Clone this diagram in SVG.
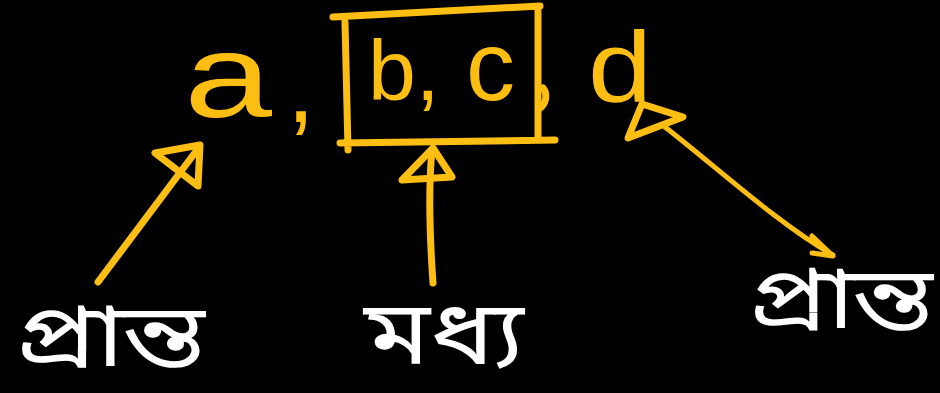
<svg xmlns="http://www.w3.org/2000/svg" width="940" height="393" viewBox="0 0 940 393">
<style>
.ink{fill:none;stroke:#FDBE14;stroke-width:7;stroke-linecap:round;stroke-linejoin:round}
.thin{fill:none;stroke:#FDBE14;stroke-width:5;stroke-linecap:round;stroke-linejoin:round}
.var{fill:#FDBE14;font-family:"Liberation Sans","DejaVu Sans",sans-serif}
.lbl{fill:#FFFFFF;font-family:"Noto Sans","Noto Sans Bengali","Lohit Bengali",sans-serif}
</style>
<rect width="940" height="393" fill="#000000"/>
<g id="seq">
<text class="var" x="184" y="117" font-size="118" textLength="88" lengthAdjust="spacingAndGlyphs">a</text>
<text class="var" x="287" y="122" font-size="100">,</text>
<text class="var" x="588" y="102" font-size="100" textLength="64" lengthAdjust="spacingAndGlyphs">d</text>
</g>
<g id="box">
<path class="ink" d="M333,17 L540,6 M345,22 L348,150 M538,8 L538,138 M340,143 L555,140"/>
<text class="var" x="368" y="100" font-size="86">b,</text>
<text class="var" x="466" y="100" font-size="98">c</text>
<path class="ink" d="M543,88 C548,94 546,104 540,108"/>
</g>
<g id="left-label">
<text class="lbl" x="15" y="366" font-size="88" textLength="190" lengthAdjust="spacingAndGlyphs">প্রান্ত</text>
</g>
<g id="middle-label">
<text class="lbl" x="364" y="364" font-size="90" textLength="160" lengthAdjust="spacingAndGlyphs">মধ্য</text>
</g>
<g id="right-label">
<text class="lbl" x="748" y="328" font-size="86" textLength="185" lengthAdjust="spacingAndGlyphs">প্রান্ত</text>
</g>
<g id="connectors">
<path class="ink" d="M98,282 L197,150"/>
<path class="ink" d="M155,153 L200,145 L198,186 Z"/>
<path class="ink" d="M433,283 C430,240 428,190 432,150"/>
<path class="ink" d="M402,180 L433,148 L452,177 Z"/>
<path class="thin" d="M665,127 C720,170 780,225 833,255 M812,236 L833,256 L812,253"/>
<path class="ink" d="M642,104 L683,117 L628,138 Z"/>
</g>
</svg>
